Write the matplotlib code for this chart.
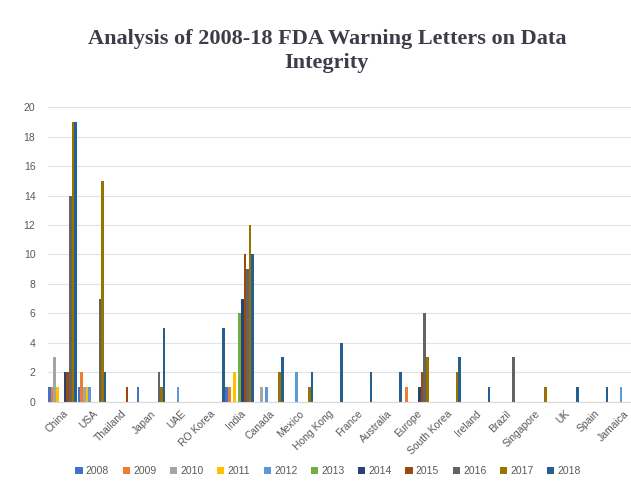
import matplotlib
matplotlib.use("Agg")
import matplotlib.pyplot as plt
import numpy as np

categories = ["China", "USA", "Thailand", "Japan", "UAE", "RO Korea", "India", "Canada",
              "Mexico", "Hong Kong", "France", "Australia", "Europe", "South Korea",
              "Ireland", "Brazil", "Singapore", "UK", "Spain", "Jamaica"]
years = ["2008", "2009", "2010", "2011", "2012", "2013", "2014", "2015", "2016", "2017", "2018"]

#            Chn USA Tha Jap UAE ROK Ind Can Mex HK  Fra Aus Eur SK  Ire Bra Sin UK  Spa Jam
y2008 = [1, 1, 0, 1, 0, 0, 1, 0, 0, 0, 0, 0, 0, 0, 0, 0, 0, 0, 0, 0]
y2009 = [1, 2, 0, 0, 0, 0, 1, 0, 0, 0, 0, 0, 1, 0, 0, 0, 0, 0, 0, 0]
y2010 = [3, 1, 0, 0, 0, 0, 0, 1, 0, 0, 0, 0, 0, 0, 0, 0, 0, 0, 0, 0]
y2011 = [1, 1, 0, 0, 0, 0, 2, 0, 0, 0, 0, 0, 0, 0, 0, 0, 0, 0, 0, 0]
y2012 = [0, 1, 0, 0, 1, 0, 0, 1, 2, 0, 0, 0, 0, 0, 0, 0, 0, 0, 0, 1]
y2013 = [0, 0, 0, 0, 0, 0, 6, 0, 0, 0, 0, 0, 0, 0, 0, 0, 0, 0, 0, 0]
y2014 = [2, 0, 0, 0, 0, 0, 7, 0, 0, 0, 0, 0, 1, 0, 0, 0, 0, 0, 0, 0]
y2015 = [2, 0, 1, 0, 0, 0, 10, 0, 0, 0, 0, 0, 2, 0, 0, 0, 0, 0, 0, 0]
y2016 = [14, 7, 0, 2, 0, 0, 9, 0, 0, 0, 0, 0, 6, 0, 0, 3, 0, 0, 0, 0]
y2017 = [19, 15, 0, 1, 0, 0, 12, 2, 1, 0, 0, 0, 3, 2, 0, 0, 1, 0, 0, 0]
y2018 = [19, 2, 0, 5, 0, 5, 10, 3, 2, 4, 2, 2, 0, 3, 1, 0, 0, 1, 1, 0]

series = [y2008, y2009, y2010, y2011, y2012, y2013, y2014, y2015, y2016, y2017, y2018]
colors = ["#4472C4", "#ED7D31", "#A5A5A5", "#FFC000", "#5B9BD5", "#70AD47",
          "#264478", "#9E480E", "#636363", "#997300", "#255E91"]

plt.rcParams['font.family'] = ['Liberation Sans', 'DejaVu Sans']

fig = plt.figure(figsize=(6.31, 4.83), dpi=100)
fig.patch.set_facecolor("white")
ax = fig.add_axes([0.0758, 0.1687, 0.9242, 0.6091])

x = np.arange(len(categories))
bw = 0.088
for k, (vals, col, yr) in enumerate(zip(series, colors, years)):
    ax.bar(x + (k - 5) * bw, vals, width=bw, color=col, label=yr, linewidth=0)

ax.set_ylim(0, 20)
ax.set_xlim(-0.5, 19.25)
ax.set_yticks(np.arange(0, 21, 2))
ax.yaxis.grid(True, color="#E3E3E3", linewidth=0.8)
ax.set_axisbelow(True)
for s in ["top", "right", "left"]:
    ax.spines[s].set_visible(False)
ax.spines["bottom"].set_color("#D9D9D9")
ax.spines["bottom"].set_linewidth(0.8)
ax.tick_params(axis="both", length=0, labelsize=7.5, labelcolor="#595959")
ax.tick_params(axis="y", pad=9)
ax.set_xticks(x)
ax.set_xticklabels(categories, rotation=45, ha="right", rotation_mode="anchor")
ax.tick_params(axis="x", pad=5)

fig.text(0.518, 0.895, "Analysis of 2008-18 FDA Warning Letters on Data\nIntegrity",
         ha="center", va="center", fontsize=16, fontweight="bold",
         family=["Liberation Serif"], color="#3D3D4A", linespacing=1.25)

leg = fig.legend(loc="center", bbox_to_anchor=(0.52, 0.025), ncol=11, frameon=False,
                 fontsize=7.5, handlelength=0.7, handleheight=0.7, handletextpad=0.3,
                 columnspacing=1.3, labelcolor="#595959")

fig.savefig("out.png", dpi=100, facecolor="white")
